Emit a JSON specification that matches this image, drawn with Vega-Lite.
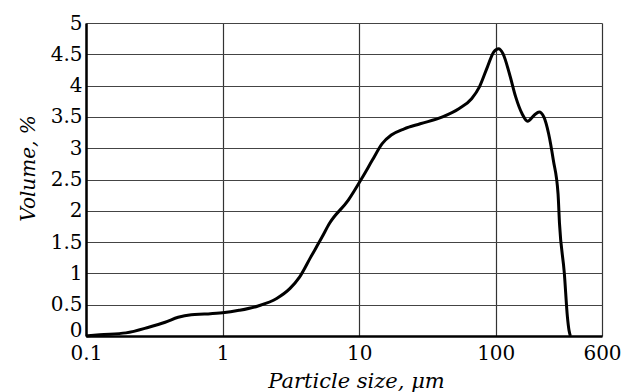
{
  "$schema": "https://vega.github.io/schema/vega-lite/v6.json",
  "autosize": "none",
  "width": 516,
  "height": 313,
  "padding": {"left": 86, "top": 23, "right": 24, "bottom": 56},
  "background": "white",
  "config": {
    "view": {"stroke": null},
    "font": "DejaVu Serif"
  },
  "data": {
    "values": [
      {"size": 0.1, "volume": 0.0},
      {"size": 0.126, "volume": 0.02},
      {"size": 0.196, "volume": 0.05},
      {"size": 0.288, "volume": 0.14},
      {"size": 0.38, "volume": 0.22},
      {"size": 0.473, "volume": 0.3},
      {"size": 0.59, "volume": 0.34},
      {"size": 0.735, "volume": 0.35},
      {"size": 1.0, "volume": 0.37},
      {"size": 1.32, "volume": 0.41},
      {"size": 1.82, "volume": 0.48},
      {"size": 2.49, "volume": 0.6},
      {"size": 3.12, "volume": 0.76},
      {"size": 3.66, "volume": 0.94},
      {"size": 4.42, "volume": 1.26},
      {"size": 5.35, "volume": 1.58},
      {"size": 6.07, "volume": 1.8},
      {"size": 8.33, "volume": 2.17},
      {"size": 10.6, "volume": 2.54},
      {"size": 12.5, "volume": 2.81},
      {"size": 14.7, "volume": 3.07},
      {"size": 17.2, "volume": 3.21},
      {"size": 21.4, "volume": 3.31},
      {"size": 28.0, "volume": 3.39},
      {"size": 40.8, "volume": 3.5},
      {"size": 53.7, "volume": 3.63},
      {"size": 66.6, "volume": 3.79},
      {"size": 76, "volume": 3.98},
      {"size": 87, "volume": 4.3},
      {"size": 96.8, "volume": 4.54},
      {"size": 105, "volume": 4.59},
      {"size": 113, "volume": 4.51},
      {"size": 126, "volume": 4.19},
      {"size": 140, "volume": 3.82},
      {"size": 156, "volume": 3.55},
      {"size": 171, "volume": 3.43},
      {"size": 192, "volume": 3.53},
      {"size": 208, "volume": 3.58},
      {"size": 225, "volume": 3.5},
      {"size": 244, "volume": 3.23},
      {"size": 264, "volume": 2.81},
      {"size": 286, "volume": 2.27},
      {"size": 293, "volume": 1.8},
      {"size": 318, "volume": 1.0},
      {"size": 335, "volume": 0.3},
      {"size": 344, "volume": 0.09},
      {"size": 352, "volume": 0.0}
    ]
  },
  "mark": {"type": "line", "color": "black", "strokeWidth": 3, "interpolate": "monotone"},
  "encoding": {
    "x": {
      "field": "size",
      "type": "quantitative",
      "scale": {"type": "log", "domain": [0.1, 600], "nice": false},
      "axis": {
        "values": [0.1, 1, 10, 100, 600],
        "format": "~g",
        "title": "Particle size, μm",
        "titleFont": "DejaVu Serif",
        "titleFontStyle": "italic",
        "titleFontWeight": "normal",
        "titleFontSize": 21,
        "titleColor": "black",
        "titleX": 270,
        "titleY": 51,
        "titleBaseline": "alphabetic",
        "titleAlign": "center",
        "labelFont": "DejaVu Serif",
        "labelFontSize": 20,
        "labelColor": "black",
        "labelPadding": 7,
        "labelOverlap": false,
        "labelFlush": false,
        "ticks": false,
        "domainColor": "black",
        "domainWidth": 2.5,
        "grid": true,
        "gridColor": "#333",
        "gridWidth": 1.2
      }
    },
    "y": {
      "field": "volume",
      "type": "quantitative",
      "scale": {"domain": [0, 5], "nice": false},
      "axis": {
        "values": [0, 0.5, 1, 1.5, 2, 2.5, 3, 3.5, 4, 4.5, 5],
        "format": "~g",
        "title": "Volume, %",
        "titleFont": "DejaVu Serif",
        "titleFontStyle": "italic",
        "titleFontWeight": "normal",
        "titleFontSize": 20,
        "titleColor": "black",
        "titleX": -58,
        "titleY": 145,
        "titleAngle": -90,
        "titleBaseline": "middle",
        "titleAlign": "center",
        "labelFont": "DejaVu Serif",
        "labelFontSize": 20,
        "labelColor": "black",
        "labelPadding": 4,
        "labelBaseline": {"condition": {"test": "datum.value == 0", "value": "alphabetic"}, "value": "middle"},
        "labelFlush": false,
        "labelOverlap": false,
        "ticks": false,
        "domainColor": "black",
        "domainWidth": 2.5,
        "grid": true,
        "gridColor": "#444",
        "gridWidth": 1.2
      }
    }
  }
}
